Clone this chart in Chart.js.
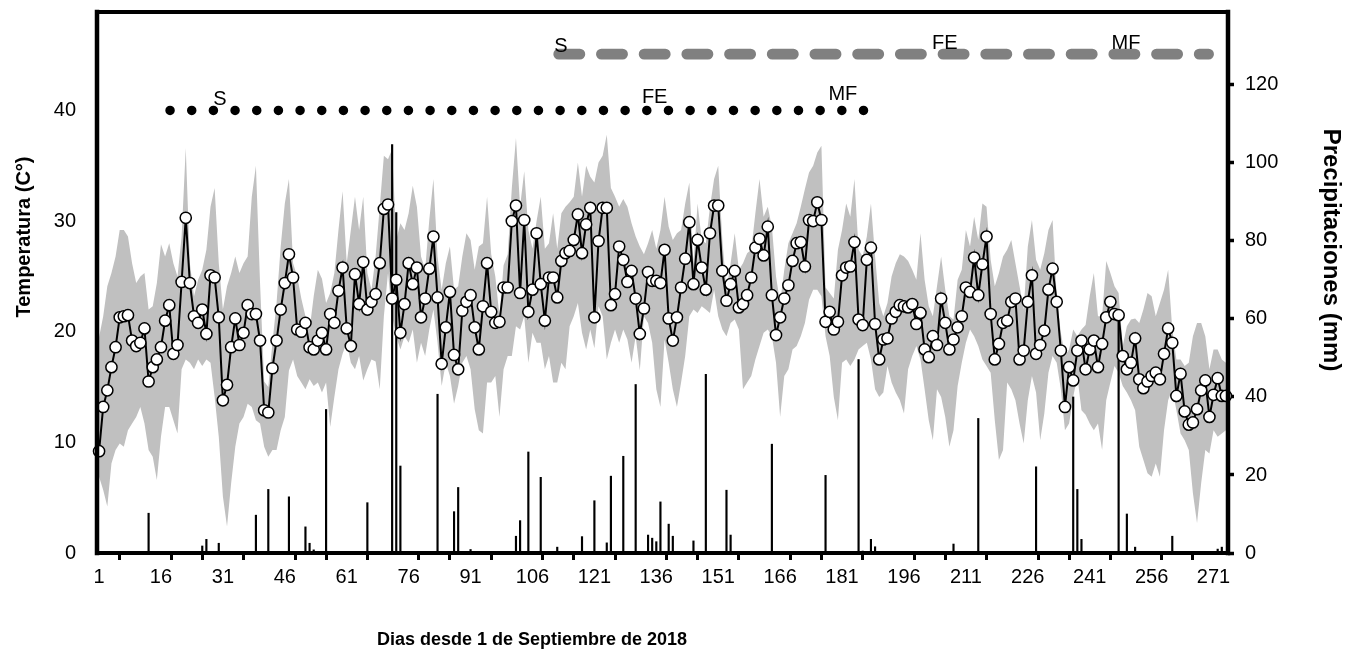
<!DOCTYPE html>
<html><head><meta charset="utf-8">
<script src="https://cdn.jsdelivr.net/npm/chart.js@4.4.1/dist/chart.umd.min.js"></script>
<style>html,body{margin:0;padding:0;background:#fff;}#wrap{width:1359px;height:656px;}</style>
</head><body><div id="wrap"><canvas id="c" width="1359" height="656"></canvas></div>
<script>
// ---- data ----
const tMean = [9.2,13.2,14.7,16.8,18.6,21.3,21.4,21.5,19.2,18.7,
19.0,20.3,15.5,16.8,17.5,18.6,21.0,22.4,18.0,18.8,
24.5,30.3,24.4,21.4,20.8,22.0,19.8,25.1,24.9,21.3,
13.8,15.2,18.6,21.2,18.8,19.9,22.4,21.6,21.6,19.2,
12.9,12.7,16.7,19.2,22.0,24.4,27.0,24.9,20.2,20.0,
20.8,18.6,18.4,19.2,19.9,18.4,21.6,20.8,23.7,25.8,
20.3,18.7,25.2,22.5,26.3,22.0,22.7,23.4,26.2,31.1,
31.5,23.0,24.7,19.9,22.5,26.2,24.3,25.8,21.3,23.0,
25.7,28.6,23.1,17.1,20.4,23.6,17.9,16.6,21.9,22.7,
23.3,20.4,18.4,22.3,26.2,21.8,20.8,20.9,24.0,24.0,
30.0,31.4,23.5,30.1,21.8,23.8,28.9,24.3,21.0,24.9,
24.9,23.1,26.4,27.1,27.3,28.3,30.6,27.1,29.7,31.2,
21.3,28.2,31.2,31.2,22.4,23.4,27.7,26.5,24.5,25.5,
23.0,19.8,22.1,25.4,24.6,24.6,24.4,27.4,21.2,19.2,
21.3,24.0,26.6,29.9,24.3,28.3,25.8,23.8,28.9,31.4,
31.4,25.5,22.8,24.3,25.5,22.2,22.5,23.3,24.9,27.6,
28.4,26.9,29.5,23.3,19.7,21.3,23.0,24.2,26.4,28.0,
28.1,25.9,30.1,30.0,31.7,30.1,20.9,21.8,20.2,20.9,
25.1,25.8,25.9,28.1,21.1,20.6,26.5,27.6,20.7,17.5,
19.3,19.4,21.2,21.8,22.4,22.3,22.2,22.5,20.7,21.7,
18.4,17.7,19.6,18.8,23.0,20.8,18.4,19.3,20.4,21.4,
24.0,23.6,26.7,23.3,26.1,28.6,21.6,17.5,18.9,20.8,
21.0,22.7,23.0,17.5,18.3,22.7,25.1,18.0,18.8,20.1,
23.8,25.7,22.7,18.3,13.2,16.8,15.6,18.3,19.2,16.6,
18.4,19.2,16.8,18.9,21.3,22.7,21.6,21.5,17.8,16.6,
17.2,19.4,15.7,14.9,15.5,16.0,16.3,15.7,18.0,20.3,
19.0,14.2,16.2,12.8,11.6,11.8,13.0,14.7,15.6,12.3,
14.3,15.8,14.2,14.2];

const tMax = [19.5,21.4,24.1,25.3,26.8,29.2,29.2,28.6,26.2,24.4,
25.0,25.3,22.0,22.3,24.4,27.9,26.8,28.0,26.2,25.0,
28.6,36.6,26.2,23.2,24.7,25.6,27.4,31.3,33.0,26.2,
22.0,24.1,25.3,26.8,25.3,26.2,26.8,32.2,35.0,24.4,
15.5,15.0,19.0,22.6,27.7,31.6,33.8,26.2,25.0,23.0,
21.4,20.2,23.2,25.6,24.8,22.6,23.5,25.3,29.2,32.7,
26.2,29.2,32.2,29.2,32.2,25.3,23.8,26.8,31.3,35.9,
35.6,36.5,28.3,29.8,29.2,30.7,33.2,31.3,26.8,25.6,
30.1,33.8,26.8,23.8,26.2,27.7,23.8,24.1,26.8,28.9,
28.3,25.6,27.7,28.0,32.2,27.0,25.0,21.4,26.0,27.0,
33.0,37.5,31.3,34.5,29.2,27.5,30.0,32.2,27.5,28.0,
30.7,27.5,30.7,31.3,31.7,32.2,35.3,32.2,35.0,34.0,
33.5,35.3,35.9,37.8,33.0,32.2,31.3,32.0,31.3,29.8,
28.6,27.7,27.0,28.0,29.2,27.5,29.2,32.2,29.5,28.3,
28.9,29.2,31.6,33.5,26.2,31.6,28.3,28.0,31.3,33.8,
35.0,28.3,23.8,26.2,28.9,25.6,26.2,27.1,27.4,30.7,
33.8,30.4,31.3,29.5,25.0,22.6,25.6,28.0,28.9,29.8,
31.3,32.9,34.4,35.0,36.2,36.8,24.0,23.5,23.0,27.4,
29.2,31.6,30.4,33.8,27.4,26.8,28.6,31.6,26.8,22.6,
21.4,22.6,25.0,26.2,27.0,26.8,26.4,25.6,24.7,28.9,
24.7,22.3,21.4,24.1,26.8,23.8,21.4,21.1,24.7,25.6,
29.2,27.7,30.4,28.3,31.6,31.3,26.5,24.1,25.3,26.8,
27.4,28.3,26.2,24.1,22.0,27.7,30.1,26.5,25.6,27.1,
29.2,30.1,23.2,19.9,17.8,18.4,20.2,19.6,20.2,20.6,
23.2,25.3,21.4,21.4,26.4,25.3,24.1,23.5,18.7,20.5,
21.1,21.2,20.8,22.0,23.5,23.2,21.4,22.6,23.8,25.6,
20.2,17.5,17.5,16.9,17.2,19.6,20.8,20.8,19.6,16.6,
18.4,18.4,17.5,17.2];

const tMin = [6.9,5.7,4.2,8.1,9.3,9.9,9.6,11.1,11.7,12.3,
13.2,11.7,9.3,8.7,6.6,10.5,13.2,13.2,12.0,10.8,
16.6,17.5,17.2,16.6,17.5,16.9,17.5,17.2,14.1,10.5,
5.1,2.4,6.3,9.6,11.7,12.3,13.5,13.2,12.0,11.7,
9.6,8.7,9.3,9.3,11.1,12.3,16.5,17.5,16.0,15.4,
14.8,15.7,15.1,15.4,14.5,15.4,11.4,14.1,16.6,18.0,
19.0,17.2,16.6,17.8,15.6,16.6,17.5,17.3,14.8,21.4,
25.3,21.4,19.6,18.4,19.6,19.0,20.2,17.2,19.0,17.8,
20.2,22.0,19.0,15.1,17.2,16.0,13.5,15.1,17.2,17.8,
16.6,13.0,11.1,10.8,15.4,15.4,16.0,12.3,16.6,17.8,
17.8,20.5,20.2,21.4,17.2,19.9,19.0,19.0,16.6,17.8,
15.4,15.4,17.2,16.6,20.5,21.4,22.6,19.9,18.4,20.2,
18.5,22.3,21.4,17.5,19.0,20.2,19.0,20.2,19.3,17.2,
19.6,16.5,21.4,20.8,19.0,14.8,13.2,19.3,17.2,14.8,
13.2,15.4,17.8,21.4,22.0,21.7,22.3,22.0,21.7,23.8,
21.4,20.2,19.6,20.8,21.1,20.2,14.8,15.4,16.0,17.5,
18.7,19.9,20.2,19.6,17.2,12.3,16.0,16.6,18.4,18.7,
19.6,20.8,22.9,23.8,23.8,23.2,19.6,17.8,14.1,12.0,
17.2,17.5,16.9,17.5,18.4,18.7,19.0,17.5,14.8,14.1,
14.5,16.9,15.4,14.5,13.8,12.6,16.6,17.8,18.7,17.5,
14.8,12.0,10.2,14.8,14.1,12.3,9.6,11.1,15.1,17.2,
19.0,20.2,19.6,18.7,17.5,16.9,16.3,12.0,8.4,9.3,
15.4,14.8,13.8,11.7,9.9,13.8,16.0,14.5,10.2,12.6,
16.3,17.8,17.2,14.8,11.1,11.7,14.1,16.0,12.9,12.5,
11.7,11.1,11.7,9.3,13.8,15.4,16.9,16.3,15.1,14.5,
13.8,12.9,9.6,8.4,7.2,6.9,8.1,6.9,11.1,13.8,
14.8,12.9,10.8,10.2,9.3,5.4,2.7,6.3,9.3,9.0,
11.1,10.5,10.8,11.1];

const rainDays = [13,26,27,30,39,42,47,51,52,53,56,66,72,73,74,83,87,88,91,
102,103,105,108,112,118,121,124,125,128,131,134,135,136,137,139,140,145,148,
153,154,164,177,185,186,188,189,208,214,228,237,238,239,248,250,252,261,272,273];
const rainMm = [10.2,1.8,3.5,2.5,9.7,16.3,14.4,6.7,2.5,0.8,36.8,12.9,104.7,87.3,22.3,40.7,10.6,16.8,0.9,
4.3,8.3,25.9,19.4,1.5,4.2,13.4,2.6,19.7,24.8,43.2,4.6,3.8,2.9,13.1,7.4,4.3,3.1,45.8,
16.1,4.6,27.9,19.9,49.6,0.5,3.5,1.6,2.3,34.5,22.1,40.0,16.3,3.5,59.6,10.0,1.5,4.3,1.0,1.5];

const xTickLabels = [1,16,31,46,61,76,91,106,121,136,151,166,181,196,211,226,241,256,271];
const xTickMarks = [1,11,21,31,41,51,61,71,81,91,101,111,121,131,141,151,161,171,181,191,201,211,221,231,241,251,261,271];
const yTicks = [0,10,20,30,40];
const y2Ticks = [0,20,40,60,80,100,120];

// phase lines (start day, end day, level)
const dottedPhase = {from: 18.2, to: 191.4, level: 40};      // °C axis
const dashedPhase = {from: 112.35, to: 269.8, level: 127.9}; // mm axis
const phaseLabels = [
  {text:'S',  day:30.3,  temp:41.0},
  {text:'FE', day:135.6, temp:41.2},
  {text:'MF', day:181.2, temp:41.4},
  {text:'S',  day:112.9, temp:45.75},
  {text:'FE', day:205.9, temp:46.05},
  {text:'MF', day:249.8, temp:46.05}
];

// ---- chart ----
const FONT = '"Liberation Sans", Arial, sans-serif';
Chart.defaults.font.family = FONT;
Chart.defaults.color = '#000';

const days = tMean.map((_, i) => i + 1);
const pts = arr => arr.map((v, i) => ({x: days[i], y: v}));
const xTickValues = Array.from(new Set(xTickLabels.concat(xTickMarks))).sort((a,b)=>a-b);

const bgPlugin = {
  id:'bg',
  beforeDraw(chart){ const c=chart.ctx; c.save(); c.fillStyle='#fff'; c.fillRect(0,0,chart.width,chart.height); c.restore(); }
};
const framePlugin = {
  id:'frame',
  afterDatasetsDraw(chart){
    const {ctx, chartArea:a} = chart;
    ctx.save();
    ctx.strokeStyle='#000';
    ctx.lineCap='square';
    ctx.lineWidth=4.5;
    ctx.beginPath(); ctx.moveTo(a.left, a.top); ctx.lineTo(a.left, a.bottom); ctx.stroke();
    ctx.beginPath(); ctx.moveTo(a.right, a.top); ctx.lineTo(a.right, a.bottom); ctx.stroke();
    ctx.lineWidth=4;
    ctx.beginPath(); ctx.moveTo(a.left, a.bottom); ctx.lineTo(a.right, a.bottom); ctx.stroke();
    ctx.beginPath(); ctx.moveTo(a.left, a.top); ctx.lineTo(a.right, a.top); ctx.stroke();
    ctx.restore();
  }
};
const labelPlugin = {
  id:'phaseLabels',
  afterDatasetsDraw(chart){
    const {ctx, scales} = chart;
    ctx.save();
    ctx.fillStyle='#000';
    ctx.font='20px '+FONT;
    ctx.textAlign='center'; ctx.textBaseline='middle';
    phaseLabels.forEach(l => ctx.fillText(l.text, scales.x.getPixelForValue(l.day), scales.y.getPixelForValue(l.temp)));
    ctx.restore();
  }
};
const titlePlugin = {
  id:'titles',
  afterDraw(chart){
    const ctx = chart.ctx;
    ctx.save();
    ctx.fillStyle='#000'; ctx.textAlign='center'; ctx.textBaseline='middle';
    ctx.font='bold 18px '+FONT;
    ctx.fillText('Dias desde 1 de Septiembre de 2018', 532, 640);
    ctx.font='bold 20px '+FONT;
    ctx.save(); ctx.translate(24, 237); ctx.rotate(-Math.PI/2);
    ctx.fillText('Temperatura (C°)', 0, 0); ctx.restore();
    ctx.save(); ctx.translate(1331, 250); ctx.rotate(Math.PI/2);
    ctx.font='bold 24px '+FONT;
    ctx.fillText('Precipitaciones (mm)', 0, 0); ctx.restore();
    ctx.restore();
  }
};
const noPad = s => { s.paddingTop = 0; s.paddingBottom = 0; s.paddingLeft = 0; s.paddingRight = 0; };

new Chart(document.getElementById('c'), {
  type:'line',
  data:{ datasets:[
    {label:'Temperatura media', data:pts(tMean), borderColor:'#000', borderWidth:2, tension:0,
     pointRadius:5.6, pointBackgroundColor:'#fff', pointBorderColor:'#000', pointBorderWidth:1.5,
     yAxisID:'y', order:1, clip:false},
    {label:'Fases 1', data:[{x:dottedPhase.from,y:dottedPhase.level},{x:dottedPhase.to,y:dottedPhase.level}],
     borderColor:'#000', borderWidth:9.5, borderDash:[0,21.67], borderCapStyle:'round', pointRadius:0,
     yAxisID:'y', order:2},
    {label:'Fases 2', data:[{x:dashedPhase.from,y:dashedPhase.level},{x:dashedPhase.to,y:dashedPhase.level}],
     borderColor:'#808080', borderWidth:10.7, borderDash:[21.2,21.5], borderCapStyle:'round', pointRadius:0,
     yAxisID:'y2', order:3},
    {type:'bar', label:'Precipitaciones', data:rainDays.map((d,i)=>({x:d, y:rainMm[i]})),
     backgroundColor:'#000', barThickness:1.5, grouped:false, yAxisID:'y2', order:4},
    {label:'Máxima', data:pts(tMax), borderColor:'rgba(0,0,0,0)', borderWidth:0, pointRadius:0,
     fill:'+1', backgroundColor:'#c0c0c0', yAxisID:'y', order:5},
    {label:'Mínima', data:pts(tMin), borderColor:'rgba(0,0,0,0)', borderWidth:0, pointRadius:0,
     fill:false, yAxisID:'y', order:6}
  ]},
  options:{
    responsive:false, animation:false, devicePixelRatio:1,
    layout:{padding:{top:12,left:0,right:0,bottom:0}},
    plugins:{legend:{display:false}, tooltip:{enabled:false}},
    scales:{
      x:{type:'linear', min:0.5, max:274.5, offset:false,
         afterBuildTicks: ax => { ax.ticks = xTickValues.map(v=>({value:v})); },
         ticks:{autoSkip:false, maxRotation:0, minRotation:0, padding:5, font:{size:20},
                callback: v => xTickLabels.includes(v) ? String(v) : ''},
         grid:{drawOnChartArea:false, drawTicks:true, tickLength:7, tickWidth:3,
               tickColor: c => (c.tick && xTickMarks.includes(c.tick.value)) ? '#000' : 'rgba(0,0,0,0)'},
         border:{display:false},
         afterFit: s => { s.height = 103; noPad(s); }},
      y:{position:'left', min:0, max:48.9,
         afterBuildTicks: ax => { ax.ticks = yTicks.map(v=>({value:v})); },
         ticks:{padding:21, font:{size:20}},
         grid:{drawOnChartArea:false, drawTicks:false},
         border:{display:false},
         afterFit: s => { s.width = 97; noPad(s); }},
      y2:{position:'right', min:0, max:138.7,
         afterBuildTicks: ax => { ax.ticks = y2Ticks.map(v=>({value:v})); },
         ticks:{padding:11, font:{size:20}},
         grid:{drawOnChartArea:false, drawTicks:true, tickLength:6, tickWidth:3.5, tickColor:'#000'},
         border:{display:false},
         afterFit: s => { s.width = 131; noPad(s); }}
    }
  },
  plugins:[bgPlugin, framePlugin, labelPlugin, titlePlugin]
});
</script></body></html>
